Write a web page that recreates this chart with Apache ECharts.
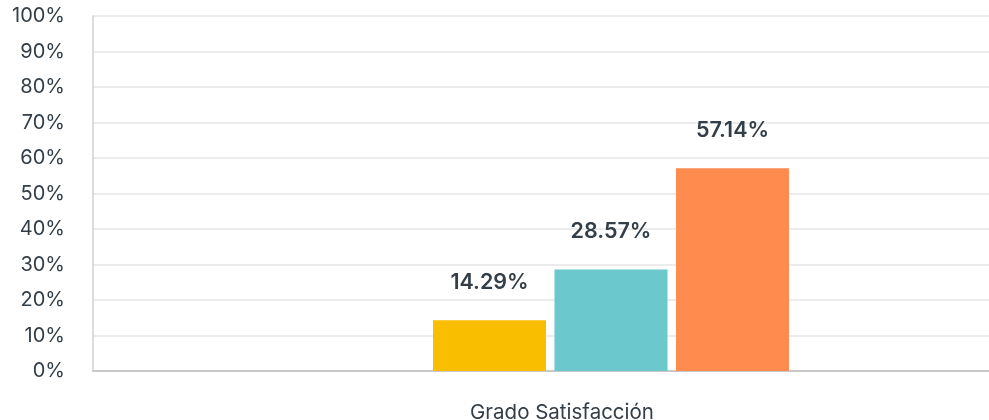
<!DOCTYPE html>
<html>
<head>
<meta charset="utf-8">
<script src="https://cdn.jsdelivr.net/npm/echarts@6/dist/echarts.min.js"></script>
<style>html,body{margin:0;padding:0;background:#fff}#c{width:989px;height:420px}</style>
</head>
<body>
<div id="c"></div>
<script>
const categories = ['Grado Satisfacción'];
const seriesNames = ['A', 'B', 'C'];
const seriesValues = [[14.29], [28.57], [57.14]];
const seriesColors = ['#F9BE00', '#6BC8CD', '#FF8B4F'];
const yTicks = [0, 10, 20, 30, 40, 50, 60, 70, 80, 90, 100];

const FONT = 'Inter';
const chart = echarts.init(document.getElementById('c'), null, {renderer: 'canvas'});
const grids = [
  {left: 93, right: 0, top: 16, bottom: 49, containLabel: false, outerBoundsMode: 'none'},
  {left: 433, right: 200, top: 16, bottom: 49, containLabel: false, outerBoundsMode: 'none'}
];
const option = {
  animation: false,
  grid: grids,
  xAxis: [
    {gridIndex: 0, type: 'category', data: categories,
     axisLine: {lineStyle: {color: '#c8c8c8', width: 2}},
     axisTick: {show: false},
     axisLabel: {color: '#333e48', fontFamily: FONT, fontSize: 20.5, margin: 31, padding: [0, 0, 0, 42]}},
    {gridIndex: 1, type: 'category', data: categories, show: false}
  ],
  yAxis: [
    {gridIndex: 0, type: 'value', min: yTicks[0], max: yTicks[yTicks.length - 1], interval: 10,
     axisLine: {show: true, lineStyle: {color: '#d0d0d0', width: 1.5}},
     axisTick: {show: false},
     splitLine: {lineStyle: {color: '#ececec', width: 2}},
     axisLabel: {color: '#333e48', fontFamily: FONT, fontSize: 20, margin: 28, padding: [7, 0, 0, 0],
       formatter: v => v + '%'}},
    {gridIndex: 1, type: 'value', min: yTicks[0], max: yTicks[yTicks.length - 1], show: false}
  ],
  series: seriesNames.map((n, i) => ({
    name: n, type: 'bar', xAxisIndex: 1, yAxisIndex: 1,
    data: seriesValues[i],
    barWidth: 113, barGap: '7.5%', barCategoryGap: 0,
    itemStyle: {color: seriesColors[i]},
    label: {show: true, position: 'top', distance: 27, color: '#333e48',
      fontFamily: FONT, fontSize: 21.5, fontWeight: 600,
      formatter: p => p.value.toFixed(2) + '%'}
  }))
};
chart.setOption(option);
</script>
</body>
</html>
